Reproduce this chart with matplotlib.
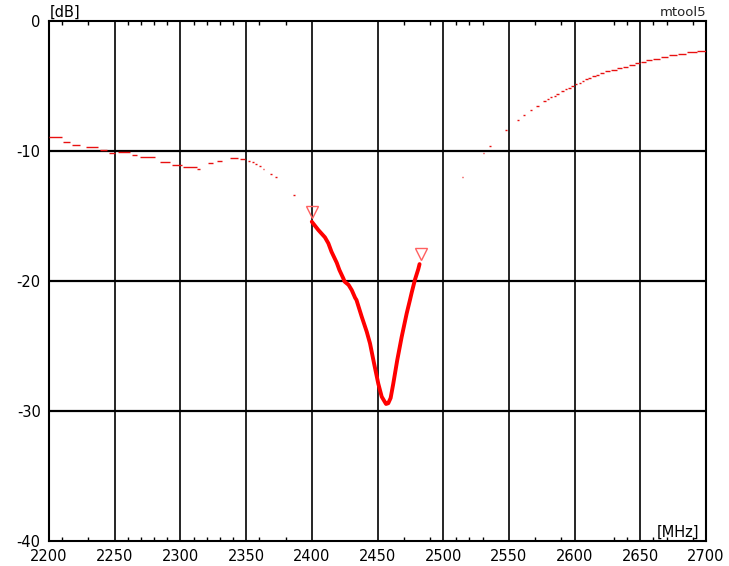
import numpy as np
import matplotlib
matplotlib.use('Agg')
import matplotlib.pyplot as plt

plt.rcParams['axes.unicode_minus'] = False

# ── Trace outside the band: short flat runs (start MHz, end MHz, level dB) ──
seg_start = [2200, 2211, 2217.5, 2228, 2239, 2246, 2252.5, 2263, 2269, 2284.5,
             2293.6, 2302, 2313, 2321, 2328, 2338, 2345, 2351.5, 2354.5, 2357,
             2360, 2362.5, 2368, 2372, 2386,
             2514, 2530, 2535, 2547, 2556, 2561, 2566, 2571, 2576, 2579,
             2581.5, 2584, 2586, 2590, 2592.5, 2595, 2597.5, 2600, 2603, 2605.5,
             2608, 2610.5, 2613, 2616, 2619, 2623, 2628, 2632.5, 2636.5, 2641.5,
             2646, 2650.5, 2654.5, 2659.5, 2665.5, 2671.5, 2678.5, 2685.5, 2693.5]
seg_end = [2210, 2216, 2223.5, 2237, 2244, 2250, 2262, 2267, 2281, 2292,
           2301, 2312.6, 2315, 2325, 2332, 2344, 2349, 2353, 2356, 2358,
           2361, 2364, 2369.5, 2373.5, 2387,
           2515, 2531, 2536, 2548.5, 2557.5, 2562.5, 2567.5, 2573, 2578, 2580.5,
           2583, 2585.5, 2588, 2592, 2594, 2597, 2599.5, 2602, 2605, 2607.5,
           2610, 2612.5, 2616, 2618.5, 2622, 2627, 2632, 2636, 2641, 2646,
           2650, 2654, 2659, 2665, 2671, 2678, 2685, 2693, 2700]
seg_db = [-8.9, -9.28, -9.54, -9.72, -9.9, -10.13, -10.1, -10.28, -10.49, -10.87,
          -11.1, -11.25, -11.38, -10.9, -10.75, -10.5, -10.62, -10.75, -10.87, -10.97,
          -11.13, -11.38, -11.74, -12.03, -13.38,
          -12.03, -10.13, -9.62, -8.38, -7.64, -7.26, -6.87, -6.54, -6.13, -6.03,
          -5.87, -5.74, -5.62, -5.38, -5.26, -5.13, -5.0, -4.87, -4.74, -4.62,
          -4.49, -4.38, -4.25, -4.13, -4.0, -3.87, -3.74, -3.64, -3.51, -3.41,
          -3.26, -3.15, -3.03, -2.9, -2.77, -2.64, -2.51, -2.38, -2.28]

# ── In-band trace (thick) ──────────────────────────────────────────────────
band_mhz = [2400, 2405, 2410, 2412.6, 2415, 2419, 2421, 2424, 2425, 2428,
            2430.4, 2433, 2434, 2438, 2441.8, 2444.3, 2447.3, 2450.6, 2453.2,
            2456.5, 2458.2, 2460, 2462, 2465, 2468.4, 2472.2, 2474.7, 2476,
            2478.5, 2481, 2482]
band_db = [-15.44, -16.08, -16.64, -17.1, -17.75, -18.6, -19.15, -19.8, -20.05, -20.3,
           -20.7, -21.3, -21.46, -22.75, -23.9, -24.8, -26.3, -27.9, -28.9,
           -29.46, -29.4, -29.0, -27.9, -26.1, -24.3, -22.5, -21.46, -20.9,
           -19.9, -19.1, -18.7]

# band-edge markers
marker_mhz = [2400, 2483]
marker_db = [-14.67, -17.95]

minor_mhz = [2210, 2230, 2260, 2270, 2280, 2290, 2310, 2320, 2330, 2340, 2360,
             2380, 2470, 2490, 2510, 2520, 2530, 2570, 2590, 2630, 2640, 2660,
             2670, 2690]

fig = plt.figure(figsize=(7.29, 5.66), dpi=100)
ax = fig.add_axes([49 / 729, 25 / 566, 657 / 729, 520 / 566])

ax.set_xlim(2200, 2700)
ax.set_ylim(-40, 0)
ax.set_xticks(np.arange(2200, 2701, 50))
ax.set_yticks(np.arange(-40, 1, 10))
ax.set_xticks(minor_mhz, minor=True)
ax.tick_params(which='major', length=0, labelsize=10.5, pad=6)
ax.tick_params(which='minor', direction='in', length=3, width=1,
               top=True, bottom=True)

for x in np.arange(2250, 2700, 50):
    ax.axvline(x, color='black', lw=1.2, zorder=1)
for y in (-10, -20, -30):
    ax.axhline(y, color='black', lw=1.6, zorder=1)
for s in ax.spines.values():
    s.set_linewidth(1.5)

ax.hlines(seg_db, seg_start, seg_end, colors='#e81010', lw=1.0, zorder=3)
ax.plot(band_mhz, band_db, color='red', lw=2.8, solid_capstyle='round', zorder=4)
ax.plot(marker_mhz, marker_db, linestyle='none', marker='v', ms=8,
        mfc='none', mec='#ff6060', mew=1.0, zorder=5)

fig.text(50 / 729, 1 - 12 / 566, '[dB]', fontsize=10.5, va='center', ha='left')
fig.text(706 / 729, 1 - 13 / 566, 'mtool5', fontsize=9.5, va='center', ha='right',
         color='#222222')
ax.text(0.99, 0.003, '[MHz]', transform=ax.transAxes, fontsize=10.5,
        ha='right', va='bottom')

fig.savefig('out.png', dpi=100)
